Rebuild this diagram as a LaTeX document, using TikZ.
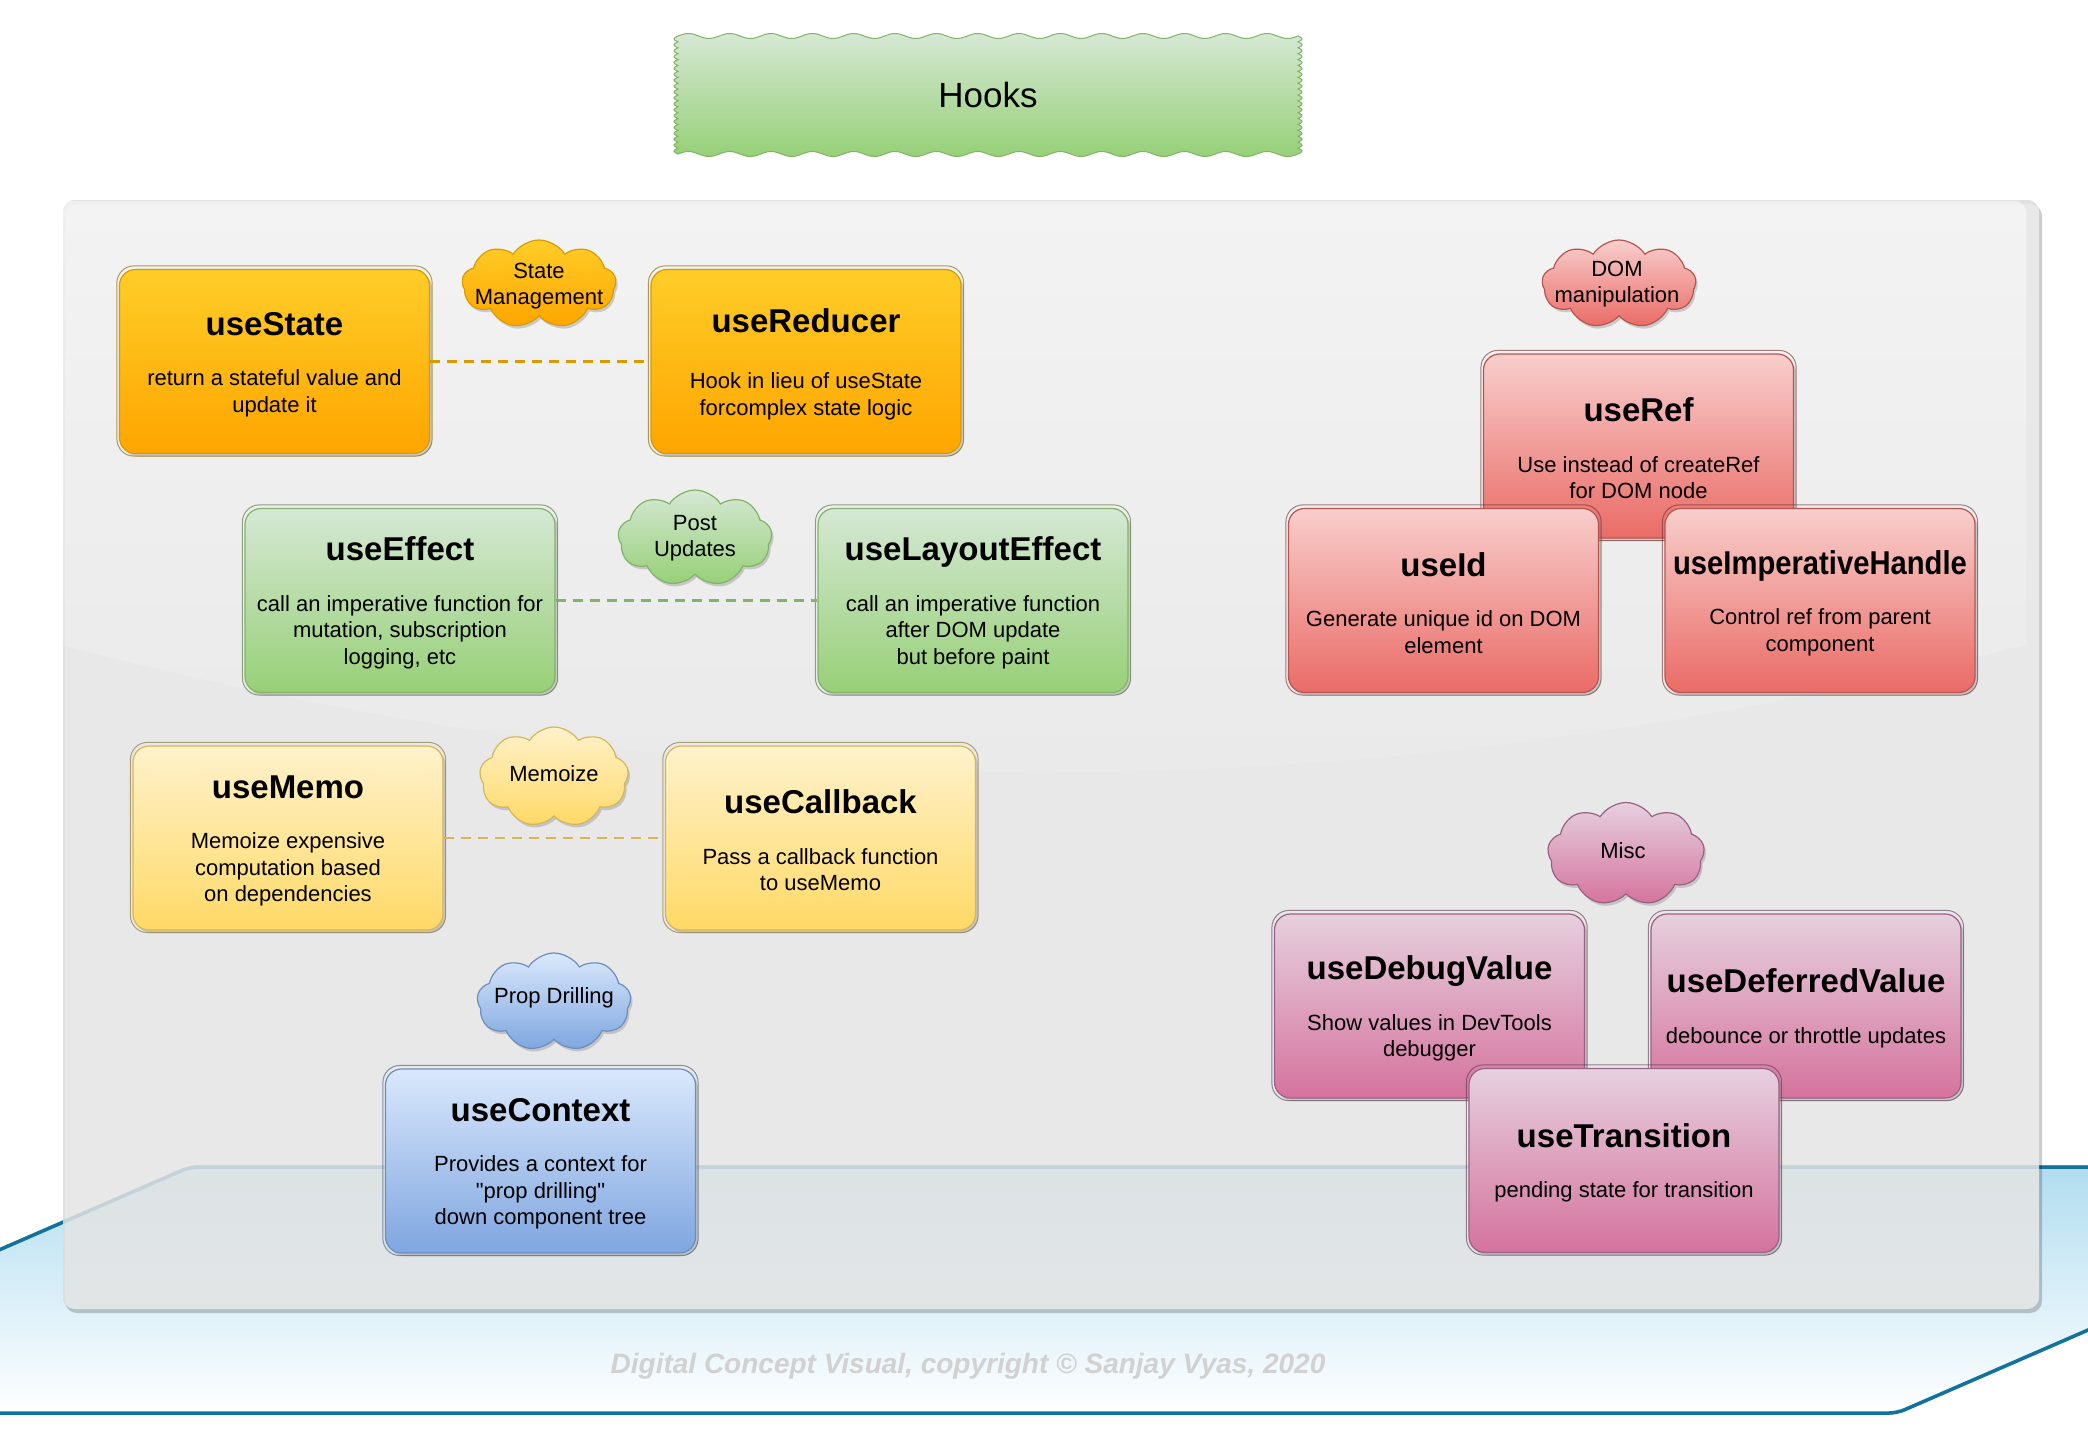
\documentclass[tikz,border=0pt]{standalone}
\usepackage{fontspec}
\setmainfont{Liberation Sans}
\usetikzlibrary{shapes.symbols,shadows,fadings}

\definecolor{orTop}{HTML}{FFCD28}\definecolor{orBot}{HTML}{FFA500}\definecolor{orLn}{HTML}{D79B00}
\definecolor{grTop}{HTML}{D5E8D4}\definecolor{grBot}{HTML}{97D077}\definecolor{grLn}{HTML}{82B366}
\definecolor{yeTop}{HTML}{FFF2CC}\definecolor{yeBot}{HTML}{FFD966}\definecolor{yeLn}{HTML}{D6B656}
\definecolor{blTop}{HTML}{DAE8FC}\definecolor{blBot}{HTML}{7EA6E0}\definecolor{blLn}{HTML}{6C8EBF}
\definecolor{rdTop}{HTML}{F8CECC}\definecolor{rdBot}{HTML}{EA6B66}\definecolor{rdLn}{HTML}{B85450}
\definecolor{pkTop}{HTML}{E6D0DE}\definecolor{pkBot}{HTML}{D5739D}\definecolor{pkLn}{HTML}{996185}
\definecolor{plTop}{HTML}{B1DDF0}\definecolor{plLn}{HTML}{10739E}
\definecolor{panelc}{HTML}{E4E4E4}

\tikzfading[name=glossfade, top color=transparent!50, bottom color=transparent!93]

\font\plainq="Liberation Sans" at 22pt
\newcommand{\dsc}{\fontsize{22}{26.5}\selectfont}
\newcommand{\ttl}{\fontsize{33}{38}\selectfont\bfseries\rule{0pt}{29pt}}
\newcommand{\sketchline}[2]{\draw[#2!60!black, line width=1pt, rounded corners=17pt, opacity=0.6] ([shift={(-2,-3)}]#1.north west) rectangle ([shift={(2,2)}]#1.south east);}

\tikzset{
  hookbox/.style={rounded corners=16pt, minimum width=310pt, minimum height=184pt,
    align=center, inner sep=0pt, font=\dsc, line width=1.2pt,
    drop shadow={shadow xshift=2.5pt, shadow yshift=-3pt, opacity=0.35}},
  orbox/.style={hookbox, top color=orTop, bottom color=orBot, draw=orLn},
  grbox/.style={hookbox, top color=grTop, bottom color=grBot, draw=grLn},
  yebox/.style={hookbox, top color=yeTop, bottom color=yeBot, draw=yeLn},
  blbox/.style={hookbox, top color=blTop, bottom color=blBot, draw=blLn},
  rdbox/.style={hookbox, top color=rdTop, bottom color=rdBot, draw=rdLn},
  pkbox/.style={hookbox, top color=pkTop, bottom color=pkBot, draw=pkLn},
  cloudbox/.style={cloud, cloud puffs=9, cloud puff arc=115, cloud ignores aspect,
    inner sep=0pt, line width=1.2pt,
    drop shadow={shadow xshift=2pt, shadow yshift=-3pt, opacity=0.35}},
  ctext/.style={font=\dsc, align=center, inner sep=0pt},
  conn/.style={dash pattern=on 10pt off 7pt, line width=2.4pt},
}

\begin{document}
\begin{tikzpicture}[x=1pt,y=-1pt]
\useasboundingbox (0,0) rectangle (2088,1456);
\clip (0,0) rectangle (2088,1456);
\fill[white] (0,0) rectangle (2088,1456);

% ---------- platform ----------
\coordinate (ptl) at (190,1167);
\coordinate (ptr) at (2463,1167);
\coordinate (pbr) at (1897,1413);
\coordinate (pbl) at (-376,1413);
\draw[black!35, line width=3.5pt, rounded corners=8pt, shift={(1,4)}] (ptl) -- (ptr) -- (pbr) -- (pbl) -- cycle;
\shade[top color=plTop, bottom color=white, rounded corners=8pt] (ptl) -- (ptr) -- (pbr) -- (pbl) -- cycle;
\draw[plLn, line width=3.5pt, rounded corners=8pt] (ptl) -- (ptr) -- (pbr) -- (pbl) -- cycle;

\node[font=\fontsize{28}{32}\selectfont\bfseries\itshape, text=black!18] (copy) at (968,1366)
  {Digital Concept Visual, copyright © Sanjay Vyas, 2020};

% ---------- panel ----------
\fill[black, opacity=0.2, rounded corners=12pt, even odd rule]
  (65,204) rectangle (2042,1313) (63,200) rectangle (2039,1309);
\fill[panelc, fill opacity=0.85, rounded corners=12pt] (63,200) rectangle (2039,1309);
\fill[white, path fading=glossfade]
  (63,644) [rounded corners=12pt] -- (63,200) -- (2039,200) [sharp corners] -- (2039,644)
  .. controls (1380,815) and (722,815) .. (63,644) -- cycle;

% ---------- Hooks title ----------
\shadedraw[top color=grTop, bottom color=grBot, draw=grLn, line width=1pt]
  plot[domain=0:620, samples=300, smooth] ({678+\x},{36-2.5*sin(8.7097*\x)})
  -- plot[domain=0:118, samples=241] ({1298+4*abs(sin(30.508*\x))},{36+\x})
  -- plot[domain=0:620, samples=300, smooth] ({1298-\x},{154+2.5*sin(8.7097*\x)})
  -- plot[domain=0:118, samples=241] ({678-4*abs(sin(30.508*\x))},{154-\x}) -- cycle;
\node[font=\fontsize{35}{40}\selectfont] (hooks) at (988,95) {Hooks};

% ---------- State management ----------
\node[orbox] (useState) at (274.5,361.5) {{\ttl useState}\\[24pt]return a stateful value and\\update it};
\sketchline{useState}{orLn}
\node[orbox] (useReducer) at (806,361.5) {{\ttl useReducer}\\[30pt]Hook in lieu of useState\\forcomplex state logic};
\sketchline{useReducer}{orLn}
\draw[conn, orLn] (useState.east) -- (useReducer.west);
\node[cloudbox, top color=orTop, bottom color=orBot, draw=orLn, minimum width=154pt, minimum height=88pt] (cState) at (539,284) {};
\node[ctext] (cStateT) at (539,286) {State\\Management};

% ---------- Post updates ----------
\node[grbox] (useEffect) at (400,600.5) {{\ttl useEffect}\\[24pt]call an imperative function for\\mutation, subscription\\logging, etc};
\sketchline{useEffect}{grLn}
\node[grbox] (useLayoutEffect) at (973,600.5) {{\ttl useLayoutEffect}\\[24pt]call an imperative function\\after DOM update\\but before paint};
\sketchline{useLayoutEffect}{grLn}
\draw[conn, grLn] (useEffect.east) -- (useLayoutEffect.west);
\node[cloudbox, top color=grTop, bottom color=grBot, draw=grLn, minimum width=154pt, minimum height=96pt] (cPost) at (695,538) {};
\node[ctext] (cPostT) at (cPost) {Post\\Updates};

% ---------- Memoize ----------
\node[yebox] (useMemo) at (288,838) {{\ttl useMemo}\\[24pt]Memoize expensive\\computation based\\on dependencies};
\sketchline{useMemo}{yeLn}
\node[yebox] (useCallback) at (820.5,838) {{\ttl useCallback}\\[24pt]Pass a callback function\\to useMemo};
\sketchline{useCallback}{yeLn}
\draw[conn, yeLn] (useMemo.east) -- (useCallback.west);
\node[cloudbox, top color=yeTop, bottom color=yeBot, draw=yeLn, minimum width=149pt, minimum height=100pt] (cMemo) at (554,777) {};
\node[ctext] (cMemoT) at (554,774) {Memoize};

% ---------- Prop drilling ----------
\node[cloudbox, top color=blTop, bottom color=blBot, draw=blLn, minimum width=154pt, minimum height=98pt] (cProp) at (554,1002) {};
\node[ctext] (cPropT) at (554,998) {Prop Drilling};
\node[blbox] (useContext) at (540.5,1161) {{\ttl useContext}\\[24pt]Provides a context for\\{\plainq"prop drilling"}\\down component tree};
\sketchline{useContext}{blLn}

% ---------- DOM manipulation ----------
\node[cloudbox, top color=rdTop, bottom color=rdBot, draw=rdLn, minimum width=154pt, minimum height=88pt] (cDom) at (1619,284) {};
\node[ctext] (cDomT) at (1617,284) {DOM\\manipulation};
\node[rdbox] (useRef) at (1638.5,446) {{\ttl useRef}\\[24pt]Use instead of createRef\\for DOM node};
\sketchline{useRef}{rdLn}
\node[rdbox] (useId) at (1443.5,600.5) {{\ttl useId}\\[24pt]Generate unique id on DOM\\element};
\sketchline{useId}{rdLn}
\node[rdbox] (useImp) at (1820,600.5) {{\ttl \scalebox{0.885}[1]{useImperativeHandle}}\\[24pt]Control ref from parent\\component};
\sketchline{useImp}{rdLn}

% ---------- Misc ----------
\node[cloudbox, top color=pkTop, bottom color=pkBot, draw=pkLn, minimum width=157pt, minimum height=103pt] (cMisc) at (1626,854) {};
\node[ctext] (cMiscT) at (1623,851) {Misc};
\node[pkbox] (useDebug) at (1429.5,1006) {{\ttl useDebugValue}\\[24pt]Show values in DevTools\\debugger};
\sketchline{useDebug}{pkLn}
\node[pkbox] (useDeferred) at (1806,1006) {{\ttl useDeferredValue}\\[24pt]debounce or throttle updates};
\sketchline{useDeferred}{pkLn}
\node[pkbox] (useTransition) at (1624,1160.5) {{\ttl useTransition}\\[24pt]pending state for transition};
\sketchline{useTransition}{pkLn}
\end{tikzpicture}
\end{document}
